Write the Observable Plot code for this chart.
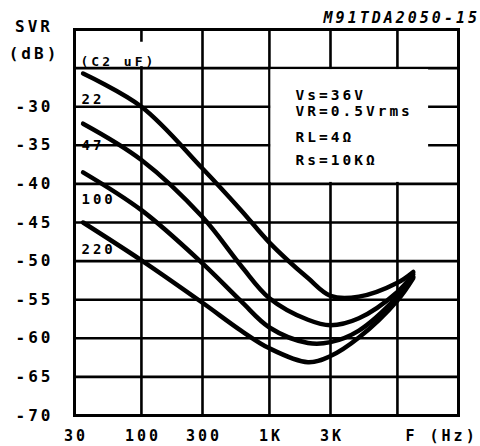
<!DOCTYPE html>
<html><head><meta charset="utf-8">
<script src="https://cdn.jsdelivr.net/npm/d3@7"></script>
<script src="https://cdn.jsdelivr.net/npm/@observablehq/plot@0.6"></script>
<style>
body{margin:0;background:#fff}
#chart svg text{letter-spacing:3px}
</style></head><body><div id="chart"></div>
<script>
// Frequency points (Hz)
const freq = [35, 100, 300, 600, 1000, 2000, 3000, 5000, 10000, 13300];
// SVR (dB) per C2 value
const svr22  = [-25.7, -30.0, -38.0, -43.4, -47.6, -52.2, -54.5, -54.6, -52.8, -51.4];
const svr47  = [-32.2, -36.9, -44.3, -50.6, -54.8, -57.6, -58.3, -57.4, -54.0, -51.7];
const svr100 = [-38.5, -43.4, -50.3, -55.2, -58.6, -60.6, -60.5, -59.0, -54.6, -52.0];
const svr220 = [-45.0, -49.9, -55.4, -59.0, -61.3, -63.1, -62.3, -59.9, -55.1, -52.2];
const capacitors = ["22", "47", "100", "220"];
const series = [svr22, svr47, svr100, svr220];

const xGrid = [30, 100, 300, 1000, 3000, 10000, 30000];
const yGrid = [-70, -65, -60, -55, -50, -45, -40, -35, -30, -25, -20];
const yTicks = [-30, -35, -40, -45, -50, -55, -60, -65, -70];
const xTicks = [30, 100, 300, 1000, 3000];
const xTickLabels = ["30", "100", "300", "1K", "3K"];
const conditions = ["Vs=36V", "VR=0.5Vrms", "RL=4Ω", "Rs=10KΩ"];
const title = "M91TDA2050-15";

const rows = [];
series.forEach((s, k) => s.forEach((v, i) => rows.push({c: capacitors[k], f: freq[i], v})));

// annotation anchors (data units)
const capLabelY = [-29.1, -35.0, -42.0, -48.5];
const condY = [-28.5, -30.6, -34.0, -37.0];

const font = "DejaVu Sans Mono";
const chart = Plot.plot({
  width: 480, height: 446,
  marginLeft: 74, marginTop: 29, marginRight: 22, marginBottom: 31,
  x: {type: "log", domain: [30, 30000], axis: null},
  y: {domain: [-70, -20], axis: null},
  style: {fontFamily: font, fontSize: "16px", fontWeight: "bold", color: "black", background: "white"},
  marks: [
    Plot.ruleX(xGrid, {stroke: "black", strokeWidth: 2.6}),
    Plot.ruleY(yGrid, {stroke: "black", strokeWidth: 2.6}),
    Plot.rect([0], {x1: () => 1000, x2: () => 18000, y1: () => -25, y2: () => -40, inset: 1.5, fill: "white"}),
    Plot.rect([0], {x1: () => 90, x2: () => 112, y1: () => -21.65, y2: () => -25, insetBottom: 1.5, fill: "white"}),
    Plot.frame({stroke: "black", strokeWidth: 3}),
    Plot.text(yTicks, {y: d => d, frameAnchor: "left", dx: -21, textAnchor: "end", lineAnchor: "middle", fontSize: 16}),
    Plot.text(xTicks, {x: d => d, text: d => xTickLabels[xTicks.indexOf(d)], frameAnchor: "bottom", dx: 1.5, dy: 21,
      textAnchor: "middle", lineAnchor: "middle", fontSize: 15}),
    Plot.text(["SVR"], {frameAnchor: "top-left", dx: -40.5, dy: -3, textAnchor: "middle", lineAnchor: "middle", fontSize: 16}),
    Plot.text(["(dB)"], {frameAnchor: "top-left", dx: -40.5, dy: 24, textAnchor: "middle", lineAnchor: "middle", fontSize: 16}),
    Plot.text([title], {frameAnchor: "top-right", dx: 21.5, dy: -11, textAnchor: "end", lineAnchor: "middle", fontSize: 15, fontStyle: "italic"}),
    Plot.text(["F (Hz)"], {frameAnchor: "bottom-right", dx: -53, dy: 21, textAnchor: "start", lineAnchor: "middle", fontSize: 15}),
    Plot.text(["(C2 uF)"], {frameAnchor: "top-left", dx: 6, dy: 32, textAnchor: "start", lineAnchor: "middle", fontSize: 13, style: "letter-spacing:2px"}),
    Plot.text(capacitors, {x: () => 34, y: (d, i) => capLabelY[i], textAnchor: "start", lineAnchor: "middle", fontSize: 14}),
    Plot.text(conditions, {x: () => 1600, y: (d, i) => condY[i], textAnchor: "start", lineAnchor: "middle", fontSize: 14.5, style: "letter-spacing:4px"}),
    Plot.line(rows, {x: "f", y: "v", z: "c", curve: "catmull-rom", stroke: "black", strokeWidth: 4.5})
  ]
});
document.getElementById("chart").append(chart);
</script></body></html>
